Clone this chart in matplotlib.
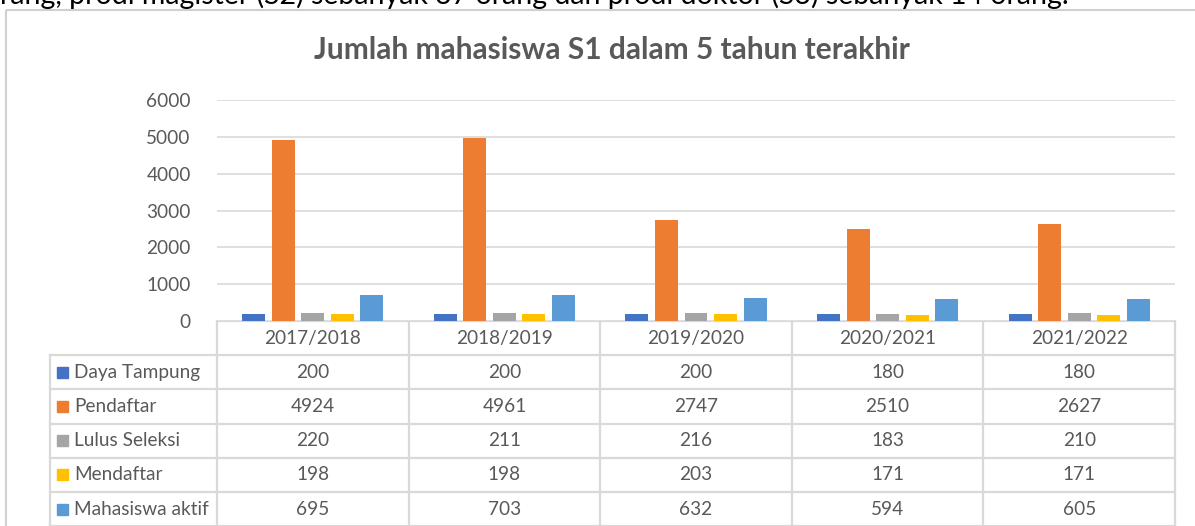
import matplotlib.pyplot as plt
from matplotlib.patches import Rectangle
from matplotlib.lines import Line2D

years = ['2017/2018', '2018/2019', '2019/2020', '2020/2021', '2021/2022']
series = ['Daya Tampung', 'Pendaftar', 'Lulus Seleksi', 'Mendaftar', 'Mahasiswa aktif']
daya_tampung = [200, 200, 200, 180, 180]
pendaftar = [4924, 4961, 2747, 2510, 2627]
lulus_seleksi = [220, 211, 216, 183, 210]
mendaftar = [198, 198, 203, 171, 171]
mahasiswa_aktif = [695, 703, 632, 594, 605]
values = [daya_tampung, pendaftar, lulus_seleksi, mendaftar, mahasiswa_aktif]
colors = ['#4472C4', '#ED7D31', '#A5A5A5', '#FFC000', '#5B9BD5']
yticks = [0, 1000, 2000, 3000, 4000, 5000, 6000]

plt.rcParams['font.family'] = ['Lato', 'DejaVu Sans']
TXT = '#595959'
GRID = '#D9D9D9'
FS = 13.7

W, H = 1195, 526
fig = plt.figure(figsize=(W / 100, H / 100), dpi=100)

# overlay axes in pixel coordinates for frame, title and table
ov = fig.add_axes([0, 0, 1, 1])
ov.set_xlim(0, W)
ov.set_ylim(H, 0)
ov.axis('off')

# cropped line of document text above the chart
ov.text(0, 4, 'rang, prodi magister (S2) sebanyak 37 orang dan prodi doktor (S3) sebanyak 14 orang.',
        fontsize=20.5, color='black', ha='left', va='baseline', clip_on=False)

ov.add_patch(Rectangle((6, 10), 1220, 530, fill=False, ec='#D0D0D0', lw=1.5))
ov.text(612, 50, 'Jumlah mahasiswa S1 dalam 5 tahun terakhir', fontsize=21.5,
        fontweight='bold', color=TXT, ha='center', va='center')

# bar chart
left, right, top, base = 217, 1175, 100, 321
ax = fig.add_axes([left / W, 1 - base / H, (right - left) / W, (base - top) / H])
n = len(series)
step = 0.154
width = 0.12
for i, (name, vals, c) in enumerate(zip(series, values, colors)):
    xs = [k + (i - (n - 1) / 2) * step for k in range(len(years))]
    ax.bar(xs, vals, width=width, color=c, zorder=3)
ax.set_xlim(-0.5, len(years) - 0.5)
ax.set_ylim(0, 6000)
ax.set_yticks(yticks)
ax.set_yticklabels([str(t) for t in yticks], color=TXT, fontsize=FS)
ax.tick_params(axis='y', length=0, pad=19)
ax.set_xticks([])
ax.grid(axis='y', color=GRID, lw=1.2, zorder=0)
for s in ax.spines.values():
    s.set_visible(False)

# data table
col_w = (right - left) / len(years)
row_h = 34.2
label_left = 50
lc = dict(color=GRID, lw=1.6)
# header row
for j in range(len(years) + 1):
    x = left + j * col_w
    ov.add_line(Line2D([x, x], [base, H + 5], **lc))
ov.add_line(Line2D([left, right], [base, base], **lc))
for j, y in enumerate(years):
    ov.text(left + (j + 0.5) * col_w, base + row_h / 2, y, fontsize=FS, color=TXT,
            ha='center', va='center')
ov.add_line(Line2D([label_left, label_left], [base + row_h, H + 5], **lc))
for r in range(len(series) + 1):
    y = base + (r + 1) * row_h
    ov.add_line(Line2D([label_left, right], [y, y], **lc))
for r, (name, vals, c) in enumerate(zip(series, values, colors)):
    yc = base + (r + 1.5) * row_h
    ov.add_patch(Rectangle((57, yc - 5.5), 11, 11, color=c))
    ov.text(74, yc, name, fontsize=FS, color=TXT, ha='left', va='center')
    for j, v in enumerate(vals):
        ov.text(left + (j + 0.5) * col_w, yc, str(v), fontsize=FS, color=TXT,
                ha='center', va='center')

fig.savefig('out.png', dpi=100)
